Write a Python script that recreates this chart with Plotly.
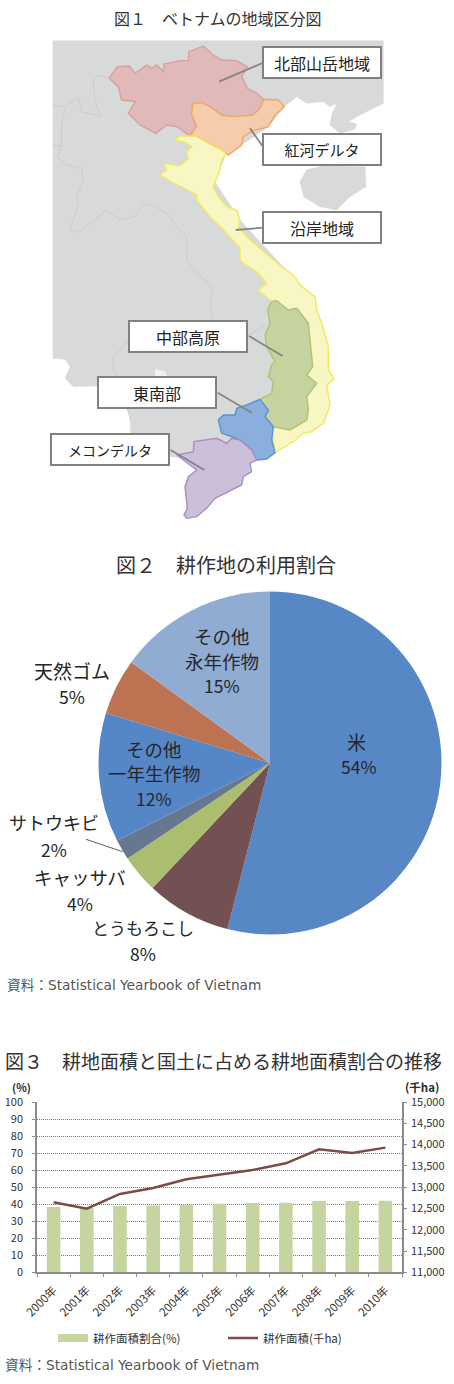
import plotly.graph_objects as go

W, H = 454, 1384
FONT = "Noto Sans CJK JP"
LATIN = "DejaVu Sans, Noto Sans CJK JP"
INK = "#2b2b2b"

# ---------- Figure 1: regional map (outlines in map units) ----------
LOWER = 780  # second sheet of the outline readings begins at this northing


def low(points):
    return [(a, b + LOWER) for a, b in points]


land = [(38, 122), (1030, 122), (1030, 310), (1000, 325), (960, 345), (925, 365), (950, 372), (945, 388), (900, 400),
        (870, 375), (875, 345), (890, 310), (870, 320), (850, 305), (800, 310), (770, 290), (733, 320), (685, 380),
        (605, 435), (558, 462), (525, 545), (600, 660), (740, 810)] + low(
    [(780, 75), (840, 190), (865, 330), (860, 450), (705, 578), (650, 600), (410, 590), (390, 590), (272, 520),
     (270, 470), (250, 420), (220, 375), (170, 378), (100, 380), (75, 355), (90, 320), (75, 298), (38, 295)])
hainan = [(780, 545), (800, 510), (850, 498), (920, 500), (975, 500), (978, 560), (930, 590), (890, 630), (840, 620),
          (790, 590)]
lake = low([(345, 328), (375, 335), (382, 352), (345, 352)])
border_a = [(38, 315), (75, 320), (115, 290), (125, 335), (180, 348), (165, 300), (160, 240), (175, 225), (207, 235)]
border_b = [(38, 437), (65, 437)]
border_c = [(75, 325), (65, 370), (65, 437), (52, 470), (80, 495), (125, 505), (130, 545), (110, 590), (115, 610),
            (90, 690), (120, 695), (200, 630), (240, 660), (285, 650), (310, 610), (345, 620), (380, 640), (410, 680),
            (440, 710), (440, 780)] + low(
    [(460, 30), (500, 65), (520, 95), (510, 130), (520, 170), (500, 195), (560, 240), (625, 225), (675, 198)])
border_d = low([(500, 195), (400, 200), (350, 210), (265, 240), (218, 295), (222, 335), (245, 360), (260, 440),
                (272, 480)])

north = [(207, 235), (232, 200), (268, 198), (285, 220), (320, 195), (335, 205), (350, 195), (370, 215), (372, 192),
         (420, 182), (445, 182), (447, 155), (490, 138), (520, 165), (545, 180), (590, 182), (622, 200), (605, 230),
         (622, 265), (650, 280), (672, 298), (660, 325), (640, 345), (610, 350), (580, 350), (545, 345), (510, 320),
         (485, 308), (458, 312), (455, 345), (470, 378), (450, 408), (410, 380), (380, 375), (348, 400), (300, 375),
         (265, 340), (285, 305), (245, 300), (235, 260), (207, 235)]
delta = [(458, 312), (485, 308), (510, 320), (545, 345), (580, 350), (640, 345), (660, 325), (672, 298), (715, 300),
         (733, 320), (705, 345), (685, 380), (640, 392), (610, 410), (605, 435), (565, 465), (545, 450), (505, 430),
         (470, 410), (450, 408), (470, 378), (455, 345), (458, 312)]
coast = [(405, 420), (420, 408), (450, 408), (470, 410), (505, 430), (545, 450), (558, 462), (545, 480), (540, 510),
         (525, 545), (520, 560), (535, 590), (560, 620), (590, 630), (600, 660), (595, 680), (625, 715), (660, 745),
         (700, 780), (740, 810)] + low(
    [(765, 50), (780, 75), (825, 110), (830, 150), (845, 190), (865, 260), (865, 330), (882, 355), (860, 378),
     (870, 430), (865, 450), (850, 490), (815, 515), (790, 520), (760, 545), (705, 578), (700, 540), (695, 505),
     (700, 500), (750, 510), (800, 480), (805, 450), (800, 410), (830, 370), (800, 345), (818, 320), (812, 265),
     (805, 190), (770, 145), (745, 150), (710, 122), (695, 125), (655, 90), (680, 70), (650, 35), (610, 10), (600, 0)]
) + [(600, 745), (560, 700), (510, 650), (490, 625), (470, 600), (470, 585), (430, 565), (385, 540), (360, 525),
     (380, 510), (370, 490), (420, 497), (445, 475), (440, 455), (455, 440), (430, 425), (405, 420)]
highland = low([(695, 125), (710, 122), (745, 150), (770, 145), (805, 190), (812, 265), (818, 320), (800, 345),
                (830, 370), (800, 410), (805, 450), (800, 480), (750, 510), (700, 500), (675, 470), (685, 450),
                (660, 418), (695, 400), (700, 365), (685, 350), (695, 315), (705, 305), (680, 260), (675, 225),
                (690, 190), (683, 150), (695, 125)])
southeast = low([(660, 418), (685, 450), (675, 470), (700, 500), (695, 540), (705, 578), (680, 597), (650, 600),
                 (635, 570), (600, 540), (575, 530), (545, 520), (535, 480), (550, 465), (585, 465), (590, 445),
                 (620, 435), (660, 418)])
mekong = low([(410, 585), (460, 575), (462, 545), (500, 540), (530, 535), (560, 550), (575, 535), (600, 540),
              (635, 570), (650, 600), (630, 610), (635, 635), (610, 650), (605, 675), (575, 690), (525, 715),
              (500, 745), (470, 770), (440, 775), (432, 765), (442, 745), (435, 680), (445, 650), (470, 630),
              (430, 600), (410, 585)])

regions = [("北部山岳地域", north, "#e0b9b9", "#d99e9e"), ("紅河デルタ", delta, "#f6cdac", "#f2a765"),
           ("沿岸地域", coast, "#f8f6c2", "#f2e95c"), ("中部高原", highland, "#c5d39e", "#adc277"),
           ("東南部", southeast, "#8bafdc", "#5c90d2"), ("メコンデルタ", mekong, "#cbbfd9", "#a78fc2")]
leaders = [[(670, 188), (537, 245)], [(672, 445), (630, 385)], [(670, 683), (587, 690)],
           low([(627, 228), (728, 288)]), low([(533, 398), (635, 458)]), low([(392, 570), (493, 630)])]
region_boxes = [("北部山岳地域", 846, 186, 16), ("紅河デルタ", 846, 449, 15), ("沿岸地域", 846, 682, 16),
                ("中部高原", 443, 228 + LOWER, 16), ("東南部", 351, 397 + LOWER, 16), ("メコンデルタ", 211, 568 + LOWER, 14)]

# ---------- Figure 2: share of cultivated land ----------
crops = ["米", "とうもろこし", "キャッサバ", "サトウキビ", "その他一年生作物", "天然ゴム", "その他永年作物"]
crop_share = [54, 8, 3.6, 1.9, 12.2, 5.3, 15]
crop_colors = ["#5887c6", "#735051", "#abbd6f", "#66788f", "#5586c6", "#bd7351", "#90acd3"]
crop_label_lines = [("米", 356.7, 741.3, 19), ("54%", 359, 766.7, 17.5),
                    ("とうもろこし", 142.7, 927.3, 17), ("8%", 142.7, 953.3, 17.5),
                    ("キャッサバ", 80.3, 877.3, 18.5), ("4%", 80.3, 904, 17.5),
                    ("サトウキビ", 54, 822.3, 18), ("2%", 54, 849, 17.5),
                    ("その他", 154.3, 748.5, 18.5), ("一年生作物", 154.3, 773, 18.5), ("12%", 154.3, 798.3, 17.5),
                    ("天然ゴム", 72, 670.7, 19), ("5%", 72, 696.3, 17.5),
                    ("その他", 221.7, 636, 18.5), ("永年作物", 221.7, 660.7, 18.5), ("15%", 221.7, 685, 17.5)]

# ---------- Figure 3: cultivated area ----------
years = ["2000年", "2001年", "2002年", "2003年", "2004年", "2005年", "2006年", "2007年", "2008年", "2009年", "2010年"]
area_share = [38.4, 37.8, 38.9, 39.2, 39.7, 40.3, 40.7, 40.9, 41.9, 41.9, 42.0]
area_kha = [12644, 12495, 12840, 12980, 13184, 13286, 13403, 13560, 13888, 13802, 13928]
BAR_COLOR = "#c6d5a0"


def px(x):
    return x / W


def py(y):
    return 1 - y / H


fig = go.Figure()

# map traces
MAP = dict(xaxis="x3", yaxis="y3", showlegend=False, hoverinfo="skip")


def poly(pts, fill, line, lw=1.2):
    fig.add_trace(go.Scatter(x=[p[0] for p in pts], y=[p[1] for p in pts], mode="lines", fill="toself",
                             fillcolor=fill, line=dict(color=line, width=lw), **MAP))


poly(land, "#d8dad9", "#d8dad9", 0.5)
poly(hainan, "#d8dad9", "#d8dad9", 0.5)
poly(lake, "#f1f2f1", "#f1f2f1", 0.5)
for b in (border_a, border_b, border_c, border_d):
    fig.add_trace(go.Scatter(x=[p[0] for p in b], y=[p[1] for p in b], mode="lines",
                             line=dict(color="#c6c8c7", width=0.8), **MAP))
for name, pts, fill, line in regions:
    poly(pts, fill, line, 1.4)
for seg in leaders:
    fig.add_trace(go.Scatter(x=[p[0] for p in seg], y=[p[1] for p in seg], mode="lines",
                             line=dict(color="#858585", width=1.8), **MAP))

# pie
fig.add_trace(go.Pie(labels=crops, values=crop_share, sort=False, direction="clockwise", rotation=0,
                     marker=dict(colors=crop_colors, line=dict(width=0)), textinfo="none", showlegend=False,
                     domain=dict(x=[px(98.5), px(441.5)], y=[py(934.5), py(591.5)])))

# combination chart: the bars' legend entry is a wide swatch, as in the source
fig.add_trace(go.Bar(x=years, y=area_share, name="耕作面積割合(%)", marker=dict(color=BAR_COLOR, line=dict(width=0)),
                     xaxis="x", yaxis="y", showlegend=False))
fig.add_trace(go.Scatter(x=[None], y=[None], name="耕作面積割合(%)", mode="lines",
                         line=dict(color=BAR_COLOR, width=8), xaxis="x", yaxis="y"))
fig.add_trace(go.Scatter(x=years, y=area_kha, name="耕作面積(千ha)", mode="lines",
                         line=dict(color="#7b4c47", width=2.5), xaxis="x", yaxis="y2"))

annotations = []


def note(text, x, y, size, anchor="center", color=INK, family=FONT):
    annotations.append(dict(text=text, x=px(x), y=py(y), xref="paper", yref="paper", xanchor=anchor, yanchor="middle",
                            showarrow=False, align="center", font=dict(family=family, size=size, color=color)))


note("図１　ベトナムの地域区分図", 217.5, 17.5, 16, color="#333333")
note("図２　耕作地の利用割合", 225.5, 564, 20, color="#333333")
note("図３　耕地面積と国土に占める耕地面積割合の推移", 223.5, 1060, 19, color="#333333")
note("資料：Statistical Yearbook of Vietnam", 4.5, 985, 13.7, "left", "#555555", LATIN)
note("資料：Statistical Yearbook of Vietnam", 2.5, 1365, 13.7, "left", "#555555", LATIN)
note("<b>(%)</b>", 21, 1087, 11)
note("<b>(千ha)</b>", 422, 1087, 11.5)
for text, x, y, size in crop_label_lines:
    note(text, x, y, size, color="#262626")
for text, x, y, size in region_boxes:
    annotations.append(dict(text=text, x=x, y=y, xref="x3", yref="y3", xanchor="center", yanchor="middle",
                            showarrow=False, width=116, height=29, bgcolor="white", bordercolor="#808080",
                            borderwidth=2, borderpad=0, align="center", valign="middle",
                            font=dict(family=FONT, size=size, color="#222222")))

axis_line = dict(showline=True, linecolor="#8c8c8c", linewidth=1.5, ticks="outside", ticklen=3, tickcolor="#8c8c8c")
fig.update_layout(
    width=W, height=H, autosize=False, margin=dict(l=0, r=0, t=0, b=0, autoexpand=False), paper_bgcolor="white",
    plot_bgcolor="rgba(0,0,0,0)",
    font=dict(family=FONT, color="#333333", size=11), barmode="overlay", bargap=0.59,
    xaxis=dict(domain=[px(37), px(402)], anchor="y", type="category", tickson="boundaries", tickangle=-45,
               tickfont=dict(size=11.5), showgrid=False, ticklabelstandoff=5, **axis_line),
    yaxis=dict(domain=[py(1272.3), py(1102)], anchor="x", range=[0, 100], dtick=10, showgrid=True,
               gridcolor="#7a7a7a", griddash="1px,1px", gridwidth=1, zeroline=False, tickfont=dict(size=11),
               ticklabelstandoff=7, **axis_line),
    yaxis2=dict(domain=[py(1272.3), py(1102)], anchor="x", overlaying="y", side="right", range=[11000, 15000], dtick=500,
                tickformat=",d", showgrid=False, zeroline=False, tickfont=dict(size=11), ticklabelstandoff=2, **axis_line),
    xaxis3=dict(domain=[px(40), px(390)], range=[0, 1050], anchor="y3", visible=False, fixedrange=True),
    yaxis3=dict(domain=[py(530), py(0)], range=[1590, 0], anchor="x3", visible=False, fixedrange=True),
    legend=dict(orientation="h", x=px(53), y=py(1338), xanchor="left", yanchor="middle", font=dict(size=11.5),
                bgcolor="rgba(0,0,0,0)", entrywidth=125, entrywidthmode="pixels", itemwidth=30,
                traceorder="normal"),
    annotations=annotations,
    shapes=[dict(type="line", xref="paper", yref="paper", x0=px(86), y0=py(839.3), x1=px(122.7), y1=py(851.7),
                 line=dict(color="#333333", width=0.8), layer="above")],
)

fig.write_html("out.html", config=dict(displayModeBar=False), post_script="document.body.style.margin='0';")
